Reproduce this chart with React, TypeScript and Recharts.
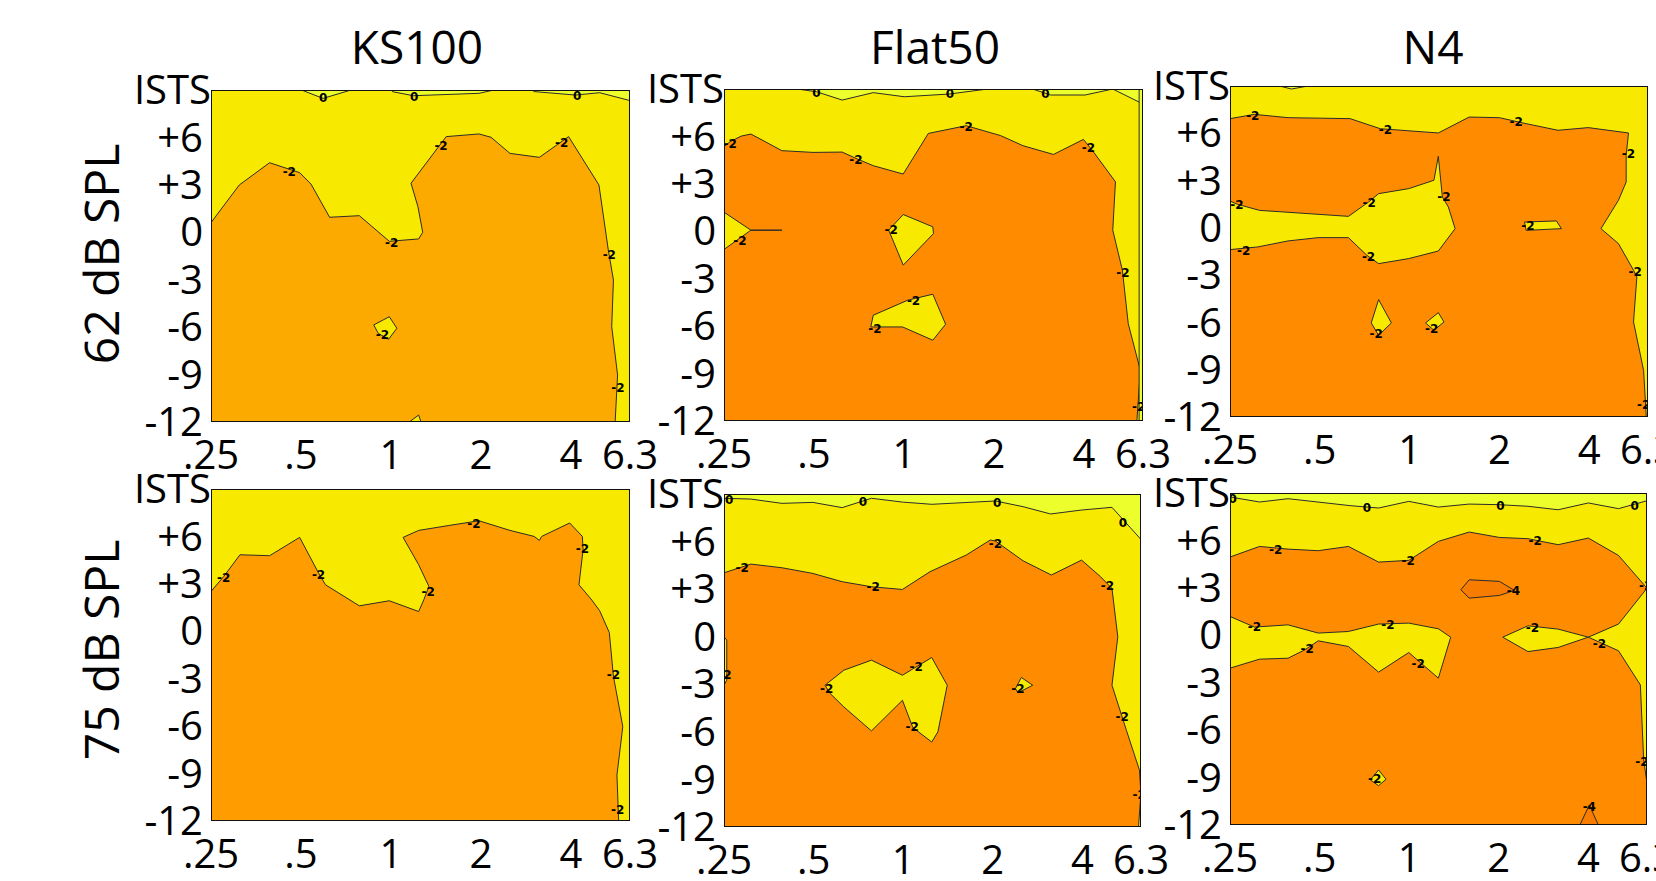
import React from "react";
import { ScatterChart, Scatter, XAxis, YAxis } from "recharts";

// ---- axes ----
// x: octaves above 250 Hz (log2 frequency axis), y: SNR in dB, ISTS (speech only) sits on top
const FREQ_TICKS = [0, 1, 2, 3, 4, 4.655];
const FREQ_LABELS = [".25", ".5", "1", "2", "4", "6.3"];
const SNR_TICKS = [-12, -9, -6, -3, 0, 3, 6, 9];
const SNR_LABELS = ["-12", "-9", "-6", "-3", "0", "+3", "+6", "ISTS"];
const X_DOMAIN: [number, number] = [0, 4.655];
const Y_DOMAIN: [number, number] = [-12, 9];

const TITLES = ["KS100", "Flat50", "N4"];
const ROWS = ["62 dB SPL", "75 dB SPL"];

type Pt = [number, number];
type Lbl = [number, number, string];

// ---- KS100, 62 dB ----
const ks62Orange: Pt[] = [
  [0, 0.61], [0.314, 2.99], [0.651, 4.4], [0.985, 3.77], [1.111, 3.05], [1.318, 0.95],
  [1.648, 1.05], [1.981, -0.57], [2.307, -0.42], [2.352, 0.0], [2.299, 1.62], [2.222, 3.1],
  [2.613, 6.05], [2.977, 6.22], [3.111, 6.01], [3.322, 4.99], [3.648, 4.74], [3.973, 6.05],
  [4.31, 2.99], [4.414, -1.12], [4.471, -3.02], [4.452, -5.97], [4.517, -9.03], [4.49, -12], [0, -12],
];
const ks62Islands: Pt[][] = [
  [[1.808, -5.86], [1.981, -5.34], [2.065, -6.07], [1.973, -6.77], [1.858, -6.39]],
  [[2.203, -12], [2.307, -11.56], [2.333, -12]],
];
const ks62Zero: Pt[][] = [
  [[1.0, 9], [1.023, 8.96], [1.245, 8.47], [1.521, 8.94], [1.55, 9]],
  [[2.0, 9], [2.019, 8.89], [2.249, 8.64], [2.977, 8.79], [3.111, 8.96], [3.13, 9]],
  [[3.57, 9], [3.59, 8.9], [4.05, 8.68], [4.318, 8.83], [4.655, 8.33], [4.655, 9]],
];
const ks62Labels: Lbl[] = [
  [1.245, 8.47, "0"], [2.257, 8.58, "0"], [4.069, 8.64, "0"],
  [0.87, 3.83, "-2"], [2.556, 5.46, "-2"], [3.897, 5.63, "-2"], [2.008, -0.7, "-2"],
  [4.425, -1.44, "-2"], [4.521, -9.87, "-2"], [1.904, -6.5, "-2"],
];

// ---- Flat50, 62 dB ----
const fl62Orange: Pt[] = [
  [0, 5.35], [0.069, 5.67], [0.191, 6.02], [0.299, 6.15], [0.643, 5.1], [0.988, 4.99],
  [1.313, 5.01], [1.466, 4.61], [1.658, 4.15], [1.991, 3.62], [2.27, 6.19], [2.691, 6.68],
  [3.074, 6.05], [3.323, 5.41], [3.66, 4.86], [3.993, 5.81], [4.089, 5.14], [4.349, 3.13],
  [4.319, 0.07], [4.426, -2.46], [4.491, -5.84], [4.625, -8.79], [4.587, -12], [0, -12],
  [0, -1.15], [0.299, 0.07], [0.643, 0.07], [0.299, 0.07], [0, 1.21],
];
const fl62Islands: Pt[][] = [
  [[1.83, 0.07], [1.991, 1.06], [2.32, 0.28], [2.328, -0.14], [1.991, -2.14]],
  [[1.658, -5.31], [2.041, -4.36], [2.32, -3.98], [2.462, -5.88], [2.32, -6.89], [1.983, -6.05], [1.631, -6.05]],
];
const fl62Zero: Pt[][] = [
  [[0.8, 9], [0.835, 8.98], [1.026, 8.83], [1.313, 8.3], [1.658, 8.77], [2.002, 8.51], [2.5, 8.68], [2.902, 8.98], [2.95, 9]],
  [[3.4, 9], [3.438, 8.98], [3.629, 8.62], [4.012, 8.62], [4.319, 9], [4.655, 8.05], [4.655, 9]],
  [[4.612, 9], [4.655, 9], [4.655, -12], [4.612, -12]],
];
const fl62Labels: Lbl[] = [
  [1.026, 8.73, "0"], [2.511, 8.66, "0"], [3.572, 8.66, "0"],
  [0.069, 5.52, "-2"], [1.466, 4.5, "-2"], [2.691, 6.61, "-2"], [4.05, 5.24, "-2"],
  [4.433, -2.67, "-2"], [4.606, -11.11, "-2"], [0.176, -0.6, "-2"], [1.857, 0.11, "-2"],
  [2.106, -4.4, "-2"], [1.677, -6.15, "-2"],
];

// ---- N4, 62 dB ----
const n462Orange: Pt[] = [
  [0, 6.93], [0.273, 7.2], [0.646, 6.99], [1.337, 6.93], [1.674, 6.29], [2.32, 6.02],
  [2.663, 7.03], [3.0, 6.99], [3.298, 6.61], [3.653, 6.19], [3.99, 6.36], [4.438, 6.02],
  [4.412, 4.6], [4.412, 2.91], [4.326, 1.75], [4.131, -0.05], [4.326, -1.0], [4.494, -2.69],
  [4.531, -3.12], [4.494, -5.97], [4.606, -9.04], [4.636, -12], [0, -12], [0, -1.38],
  [0.31, -1.21], [0.646, -0.83], [0.982, -0.62], [1.319, -0.62], [1.524, -1.74], [1.655, -2.27],
  [1.991, -1.95], [2.32, -1.47], [2.507, -0.05], [2.432, 1.32], [2.365, 1.96], [2.32, 4.54],
  [2.271, 3.02], [1.991, 2.49], [1.655, 2.17], [1.543, 1.64], [1.319, 0.73], [0.329, 1.11],
  [0.086, 1.49], [0, 1.7],
];
const n462Islands: Pt[][] = [
  [[3.28, 0.37], [3.635, 0.44], [3.691, -0.05], [3.298, -0.16]],
  [[1.655, -4.55], [1.797, -6.03], [1.655, -6.82], [1.573, -6.03]],
  [[2.32, -5.38], [2.383, -5.97], [2.271, -6.5], [2.178, -6.03]],
];
const n462Zero: Pt[][] = [[[0.55, 9], [0.684, 8.81], [0.87, 9]]];
const n462Labels: Lbl[] = [
  [0.254, 7.08, "-2"], [1.73, 6.23, "-2"], [3.186, 6.72, "-2"], [4.438, 4.71, "-2"],
  [0.078, 1.43, "-2"], [1.55, 1.6, "-2"], [2.383, 1.96, "-2"], [3.317, 0.1, "-2"],
  [0.153, -1.47, "-2"], [1.543, -1.85, "-2"], [1.629, -6.71, "-2"], [2.245, -6.39, "-2"],
  [4.513, -2.8, "-2"], [4.606, -11.26, "-2"],
];

// ---- KS100, 75 dB ----
const ks75Orange: Pt[] = [
  [0, 2.52], [0.142, 3.47], [0.322, 4.84], [0.651, 4.78], [0.985, 5.94], [1.195, 3.68],
  [1.272, 2.94], [1.648, 1.61], [1.981, 1.93], [2.307, 1.25], [2.364, 1.99], [2.421, 2.84],
  [2.307, 4.21], [2.134, 5.94], [2.307, 6.38], [2.651, 6.7], [2.977, 6.99], [3.322, 6.38],
  [3.59, 6.0], [3.648, 5.75], [3.674, 6.0], [3.985, 6.85], [4.126, 6.0], [4.134, 5.16],
  [4.088, 2.94], [4.222, 2.04], [4.318, 1.3], [4.425, -0.08], [4.471, -2.86], [4.575, -6.03],
  [4.51, -9.09], [4.529, -12], [0, -12],
];
const ks75Labels: Lbl[] = [
  [0.142, 3.36, "-2"], [1.195, 3.58, "-2"], [2.414, 2.46, "-2"], [2.92, 6.8, "-2"],
  [4.126, 5.2, "-2"], [4.471, -2.76, "-2"], [4.517, -11.3, "-2"],
];

// ---- Flat50, 75 dB ----
const fl75Orange: Pt[] = [
  [0, 4.03], [0.3, 4.58], [0.646, 4.35], [0.992, 3.99], [1.319, 3.47], [1.646, 3.15],
  [1.992, 2.98], [2.3, 4.1], [2.704, 5.15], [2.973, 6.1], [3.031, 6.03], [3.338, 4.79],
  [3.654, 3.89], [3.992, 4.83], [4.204, 3.78], [4.331, 3.04], [4.396, -0.01], [4.331, -3.06],
  [4.492, -5.9], [4.638, -8.42], [4.654, -9.9], [4.627, -12], [0, -12],
];
const fl75Islands: Pt[][] = [
  [[1.127, -3.06], [1.338, -2.11], [1.646, -1.48], [1.992, -2.43], [2.319, -1.31], [2.492, -3.06],
    [2.388, -6.0], [2.319, -6.64], [2.108, -5.73], [1.992, -4.01], [1.646, -5.94], [1.338, -4.43], [1.185, -3.58]],
  [[3.319, -2.57], [3.446, -3.06], [3.281, -3.54], [3.254, -3.27]],
  [[0, -0.01], [0.031, -0.22], [0.031, -2.74], [0, -3.06]],
];
const fl75Zero: Pt[][] = [
  [[0, 9], [0, 8.73], [0.3, 8.68], [0.646, 8.41], [0.992, 8.47], [1.319, 8.14], [1.646, 8.73],
    [1.992, 8.49], [2.319, 8.35], [3.031, 8.56], [3.338, 8.2], [3.646, 7.74], [3.992, 7.99],
    [4.331, 8.16], [4.654, 6.14], [4.655, 9]],
];
const fl75Labels: Lbl[] = [
  [0.058, 8.62, "0"], [1.55, 8.47, "0"], [3.05, 8.41, "0"], [4.454, 7.15, "0"],
  [0.204, 4.31, "-2"], [1.665, 3.11, "-2"], [3.031, 5.84, "-2"], [4.281, 3.19, "-2"],
  [1.146, -3.27, "-2"], [2.146, -1.94, "-2"], [2.1, -5.69, "-2"], [3.281, -3.27, "-2"],
  [4.446, -5.06, "-2"], [4.635, -10.0, "-2"], [0.012, -2.43, "-2"],
];

// ---- N4, 75 dB ----
const n475Orange: Pt[] = [
  [0, 4.95], [0.33, 5.62], [0.648, 5.45], [0.985, 5.35], [1.322, 5.62], [1.659, 4.63],
  [1.996, 4.74], [2.326, 5.94], [2.67, 6.53], [3.007, 6.19], [3.326, 6.11], [3.663, 5.73],
  [4.0, 6.15], [4.337, 5.05], [4.655, 2.98], [4.655, -12], [0, -12],
];
const n475Islands: Pt[][] = [
  [[0, 1.19], [0.273, 0.52], [0.648, 0.66], [0.985, 0.14], [1.322, 0.24], [1.659, 0.71],
    [1.996, 0.77], [2.326, 0.41], [2.464, -0.12], [2.326, -2.71], [1.996, -1.09], [1.659, -2.33],
    [1.322, -0.71], [0.985, -0.35], [0.835, -0.92], [0.648, -1.45], [0.33, -1.51], [0, -2.08]],
  [[3.045, -0.12], [3.326, 0.6], [3.663, 0.39], [4.0, -0.12], [3.663, -0.77], [3.326, -1.03]],
  [[4.655, 2.98], [4.337, 0.71], [4.0, -0.12], [4.337, -0.98], [4.581, -3.14], [4.618, -7.88], [4.655, -9.36]],
  [[1.659, -8.52], [1.742, -9.11], [1.659, -9.51], [1.566, -9.15]],
];
const n475Deep: Pt[][] = [
  [[2.577, 2.88], [2.67, 3.51], [3.007, 3.41], [3.176, 2.84], [3.007, 2.52], [2.67, 2.35]],
  [[3.906, -12], [4.011, -10.73], [4.112, -12]],
];
const n475Zero: Pt[][] = [
  [[0, 9], [0, 8.75], [0.33, 8.43], [0.648, 8.64], [1.341, 8.2], [1.659, 8.05], [1.996, 8.47],
    [2.326, 8.11], [2.67, 8.3], [3.007, 8.26], [3.326, 8.16], [3.663, 7.94], [4.0, 8.37],
    [4.337, 8.01], [4.655, 8.51], [4.655, 9]],
];
const n475Labels: Lbl[] = [
  [0.03, 8.62, "0"], [1.528, 8.05, "0"], [3.019, 8.2, "0"], [4.517, 8.16, "0"],
  [0.509, 5.41, "-2"], [1.989, 4.67, "-2"], [3.408, 5.94, "-2"], [4.64, 3.09, "-2"],
  [0.273, 0.52, "-2"], [1.764, 0.66, "-2"], [3.375, 0.49, "-2"], [0.861, -0.88, "-2"],
  [2.101, -1.81, "-2"], [4.124, -0.54, "-2"], [1.614, -9.11, "-2"], [4.599, -7.99, "-2"],
  [3.165, 2.77, "-4"], [4.011, -10.84, "-4"],
];

// ---- colours ----
const YELLOW = "#f7e900";
const LIGHT = "#ecff2c";
const ORANGE = "#ff8c00";
const DEEP = "#f87c00";
const LINE = "#2b2b2b";
const FONT = "'Open Sans', 'Noto Sans', sans-serif";

const ML = 120;
const MR = 45;
const MT = 30;
const MB = 60;

const BOX: Pt[] = [[X_DOMAIN[0], Y_DOMAIN[0]], [X_DOMAIN[0], Y_DOMAIN[1]], [X_DOMAIN[1], Y_DOMAIN[1]], [X_DOMAIN[1], Y_DOMAIN[0]]];

const PANELS = [
  { key: "ks62", frame: { x: 211, y: 90, w: 419, h: 332 }, orange: "#fdaa00", main: ks62Orange, islands: ks62Islands, deep: [], zero: ks62Zero, labels: ks62Labels },
  { key: "fl62", frame: { x: 724, y: 89, w: 419, h: 332 }, orange: ORANGE, main: fl62Orange, islands: fl62Islands, deep: [], zero: fl62Zero, labels: fl62Labels },
  { key: "n462", frame: { x: 1230, y: 86, w: 418, h: 331 }, orange: ORANGE, main: n462Orange, islands: n462Islands, deep: [], zero: n462Zero, labels: n462Labels },
  { key: "ks75", frame: { x: 211, y: 489, w: 419, h: 332 }, orange: "#ff9d00", main: ks75Orange, islands: [], deep: [], zero: [], labels: ks75Labels },
  { key: "fl75", frame: { x: 724, y: 494, w: 417, h: 333 }, orange: ORANGE, main: fl75Orange, islands: fl75Islands, deep: [], zero: fl75Zero, labels: fl75Labels },
  { key: "n475", frame: { x: 1230, y: 493, w: 417, h: 332 }, orange: ORANGE, main: n475Orange, islands: n475Islands, deep: n475Deep, zero: n475Zero, labels: n475Labels },
];

const toData = (pts: Pt[]) => pts.map(([x, y]) => ({ x, y }));

const Empty = () => <g />;

function polygon(fill: string, stroke: string, width: number) {
  return (p: any) => {
    const pts = p.points || [];
    const d = pts.map((q: any, i: number) => `${i ? "L" : "M"}${q.x},${q.y}`).join("") + "Z";
    return <path d={d} fill={fill} stroke={stroke} strokeWidth={width} strokeLinejoin="round" />;
  };
}

const ContourLabel = (p: any) => (
  <text
    x={p.cx}
    y={p.cy}
    textAnchor="middle"
    dominantBaseline="central"
    fontSize={12}
    fontWeight={700}
    fontFamily="'DejaVu Sans', sans-serif"
    fill="#000"
  >
    {p.payload.t}
  </text>
);

const YTick = (p: any) => {
  const v = p.payload.value;
  const i = SNR_TICKS.indexOf(v);
  return (
    <text x={p.x + (v === 9 ? 8 : 0)} y={p.y} dy="0.355em" textAnchor="end" fontSize={40} fontFamily={FONT} fill="#000">
      {SNR_LABELS[i]}
    </text>
  );
};

function ContourPanel({ panel }: { panel: (typeof PANELS)[number] }) {
  const { frame } = panel;
  const W = ML + frame.w + MR;
  const H = MT + frame.h + MB;
  const layers: { pts: Pt[]; fill: string }[] = [
    { pts: BOX, fill: YELLOW },
    { pts: panel.main, fill: panel.orange },
    ...panel.islands.map((pts) => ({ pts, fill: YELLOW })),
    ...(panel.deep as Pt[][]).map((pts) => ({ pts, fill: DEEP })),
    ...panel.zero.map((pts) => ({ pts, fill: LIGHT })),
  ];
  const labelData = panel.labels.map(([x, y, t]) => ({ x, y, t }));
  return (
    <div style={{ position: "absolute", left: frame.x - ML, top: frame.y - MT }}>
      <ScatterChart width={W} height={H} margin={{ top: MT, right: MR, bottom: 0, left: 0 }}>
        <XAxis
          type="number"
          dataKey="x"
          domain={X_DOMAIN}
          ticks={FREQ_TICKS}
          interval={0}
          allowDataOverflow
          tickFormatter={(v: number) => FREQ_LABELS[FREQ_TICKS.indexOf(v)]}
          axisLine={false}
          tickLine={false}
          tickSize={0}
          tickMargin={19}
          height={MB}
          tick={{ fontSize: 40, fill: "#000", fontFamily: FONT }}
        />
        <YAxis
          type="number"
          dataKey="y"
          domain={Y_DOMAIN}
          ticks={SNR_TICKS}
          interval={0}
          allowDataOverflow
          axisLine={false}
          tickLine={false}
          tickSize={0}
          tickMargin={8}
          width={ML}
          tick={<YTick />}
        />
        {layers.map((l, i) => (
          <Scatter
            key={`${panel.key}-${i}`}
            data={toData(l.pts)}
            line={polygon(l.fill, i === 0 ? "none" : LINE, 1)}
            lineType="joint"
            shape={Empty}
            isAnimationActive={false}
          />
        ))}
        <Scatter data={labelData} shape={ContourLabel} isAnimationActive={false} />
        <Scatter data={toData(BOX)} line={polygon("none", "#111", 2)} lineType="joint" shape={Empty} isAnimationActive={false} />
      </ScatterChart>
    </div>
  );
}

const TITLE_X = [417, 935, 1433];
const ROW_Y = [254, 650];

export default function App() {
  return (
    <div
      style={{
        position: "absolute",
        left: 0,
        top: 0,
        width: 1656,
        height: 881,
        overflow: "hidden",
        background: "#fff",
        fontFamily: FONT,
      }}
    >
      {TITLES.map((t, i) => (
        <div
          key={t}
          style={{
            position: "absolute",
            left: TITLE_X[i] - 150,
            top: 23,
            width: 300,
            textAlign: "center",
            fontSize: 46,
            lineHeight: "46px",
            color: "#000",
          }}
        >
          {t}
        </div>
      ))}
      {ROWS.map((r, i) => (
        <div
          key={r}
          style={{
            position: "absolute",
            left: 101 - 150,
            top: ROW_Y[i] - 30,
            width: 300,
            height: 60,
            lineHeight: "60px",
            textAlign: "center",
            fontSize: 48,
            color: "#000",
            transform: "rotate(-90deg)",
            whiteSpace: "nowrap",
          }}
        >
          {r}
        </div>
      ))}
      {PANELS.map((p) => (
        <ContourPanel key={p.key} panel={p} />
      ))}
    </div>
  );
}
